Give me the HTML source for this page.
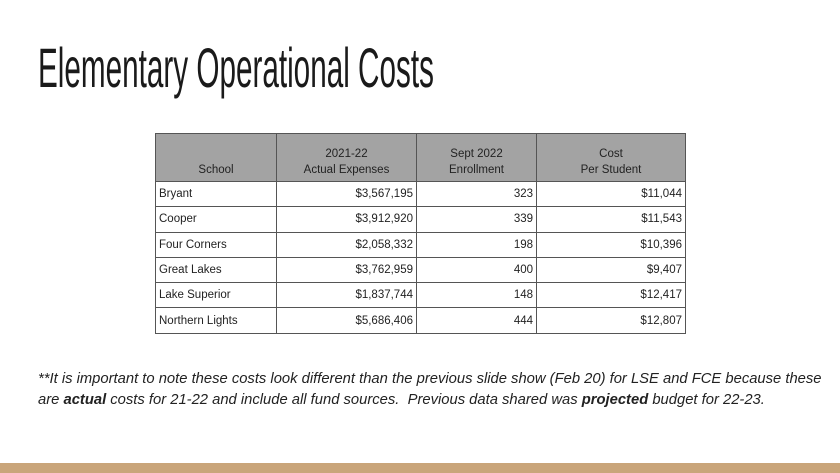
<!DOCTYPE html>
<html><head><style>
body{margin:0;width:840px;height:473px;background:#fff;position:relative;overflow:hidden;font-family:"Liberation Sans",sans-serif}
.t{position:absolute;left:38px;top:36px;font-size:56px;line-height:64px;color:#1a1a1a;white-space:nowrap;transform:scaleX(0.53);transform-origin:left top;font-weight:normal}
table{position:absolute;left:155px;top:133px;border-collapse:collapse;font-size:11.5px;color:#222}
td,th{border:1px solid #555;padding:0 3px;height:24.3px}
th{background:#a3a3a3;font-weight:normal;height:44px;vertical-align:bottom;padding-bottom:3px;line-height:16px}
td.r{text-align:right}
.n{position:absolute;left:38px;font-size:15px;font-style:italic;white-space:nowrap;color:#222;transform:scaleX(0.985);transform-origin:left top}
.bar{position:absolute;left:0;top:463px;width:840px;height:10px;background:#c9a57a}
</style></head><body>
<div class="t">Elementary Operational Costs</div>
<table>
<tr><th style="width:114px">School</th><th style="width:133px">2021-22<br>Actual Expenses</th><th style="width:113px">Sept 2022<br>Enrollment</th><th style="width:142px">Cost<br>Per Student</th></tr>
<tr><td>Bryant</td><td class="r">$3,567,195</td><td class="r">323</td><td class="r">$11,044</td></tr>
<tr><td>Cooper</td><td class="r">$3,912,920</td><td class="r">339</td><td class="r">$11,543</td></tr>
<tr><td>Four Corners</td><td class="r">$2,058,332</td><td class="r">198</td><td class="r">$10,396</td></tr>
<tr><td>Great Lakes</td><td class="r">$3,762,959</td><td class="r">400</td><td class="r">$9,407</td></tr>
<tr><td>Lake Superior</td><td class="r">$1,837,744</td><td class="r">148</td><td class="r">$12,417</td></tr>
<tr><td>Northern Lights</td><td class="r">$5,686,406</td><td class="r">444</td><td class="r">$12,807</td></tr>
</table>
<div class="n" style="top:370px">**It is important to note these costs look different than the previous slide show (Feb 20) for LSE and FCE because these</div>
<div class="n" style="top:391px">are <b>actual</b> costs for 21-22 and include all fund sources.&nbsp; Previous data shared was <b>projected</b> budget for 22-23.</div>
<div class="bar"></div>
</body></html>
